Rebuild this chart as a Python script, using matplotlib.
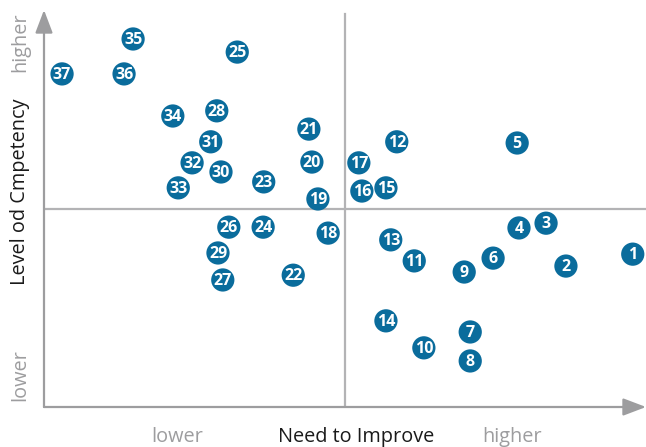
import matplotlib
matplotlib.use("Agg")
import matplotlib.pyplot as plt

# data (need to improve: x, level of competency: y) on a 0-10 scale
ids = list(range(1, 38))
need_to_improve = [9.78, 8.67, 8.34, 7.89, 7.86, 7.46, 7.08, 7.08, 6.98, 6.31,
                   6.15, 5.86, 5.76, 5.68, 5.68, 5.28, 5.23, 4.72, 4.55, 4.45,
                   4.40, 4.14, 3.65, 3.64, 3.21, 3.07, 2.97, 2.87, 2.89, 2.94,
                   2.77, 2.46, 2.23, 2.14, 1.48, 1.33, 0.30]
competency = [3.85, 3.55, 4.63, 4.51, 6.65, 3.75, 1.89, 1.16, 3.40, 1.49,
              3.68, 6.68, 4.21, 2.17, 5.52, 5.44, 6.15, 4.38, 5.24, 6.17,
              7.00, 3.32, 5.67, 4.53, 8.94, 4.53, 3.20, 7.46, 3.88, 5.92,
              6.68, 6.15, 5.52, 7.33, 9.27, 8.39, 8.39]
x_label = "Need to Improve"
y_label = "Level od Cmpetency"
low_text = "lower"
high_text = "higher"

W, H = 646, 447
fig = plt.figure(figsize=(W / 100, H / 100), dpi=100)
fig.patch.set_facecolor("white")

left, right, bottom, top = 44, 646, 407, 10
ax = fig.add_axes([left / W, (H - bottom) / H, (right - left) / W, (bottom - top) / H])
ax.set_xlim(0, 10)
ax.set_ylim(0, 10)
ax.axis("off")

axis_col = "#9d9d9f"
line_col = "#b3b3b5"
dot_col = "#0a6c9c"

# quadrant lines
ax.plot([5, 5], [0, 9.9], color=line_col, lw=1.6, zorder=1)
ax.plot([0, 10], [5, 5], color=line_col, lw=1.6, zorder=1)

# axes with arrows
arrow = dict(arrowstyle="-|>,head_length=1.0,head_width=0.38",
             color=axis_col, lw=1.6, mutation_scale=14, shrinkA=0, shrinkB=0)
ax.annotate("", xy=(0, 1.0), xytext=(0, 0), xycoords="axes fraction",
            arrowprops=arrow, annotation_clip=False)
ax.annotate("", xy=(1.0, 0), xytext=(0, 0), xycoords="axes fraction",
            arrowprops=arrow, annotation_clip=False)

ax.scatter(need_to_improve, competency, s=280, color=dot_col, edgecolors="none",
           zorder=3, clip_on=False)
for i, xv, yv in zip(ids, need_to_improve, competency):
    ax.text(xv, yv - 0.03, str(i), color="white", fontsize=11.5, fontweight="bold",
            family="Open Sans", ha="center", va="center", zorder=4)

fs = 14.3
fig.text(177 / W, 1 - 437 / H, low_text, color=axis_col, fontsize=fs, family="Open Sans",
         ha="center", va="center")
fig.text(356 / W, 1 - 437 / H, x_label, color="#1a1a1a", fontsize=fs, family="Open Sans",
         ha="center", va="center")
fig.text(512 / W, 1 - 437 / H, high_text, color=axis_col, fontsize=fs, family="Open Sans",
         ha="center", va="center")

fig.text(20 / W, 1 - 42 / H, high_text, color=axis_col, fontsize=fs, family="Open Sans",
         ha="center", va="center", rotation=90)
fig.text(20 / W, 1 - 192 / H, y_label, color="#1a1a1a", fontsize=fs, family="Open Sans",
         ha="center", va="center", rotation=90)
fig.text(20 / W, 1 - 375 / H, low_text, color=axis_col, fontsize=fs, family="Open Sans",
         ha="center", va="center", rotation=90)

fig.savefig("out.png", dpi=100)
